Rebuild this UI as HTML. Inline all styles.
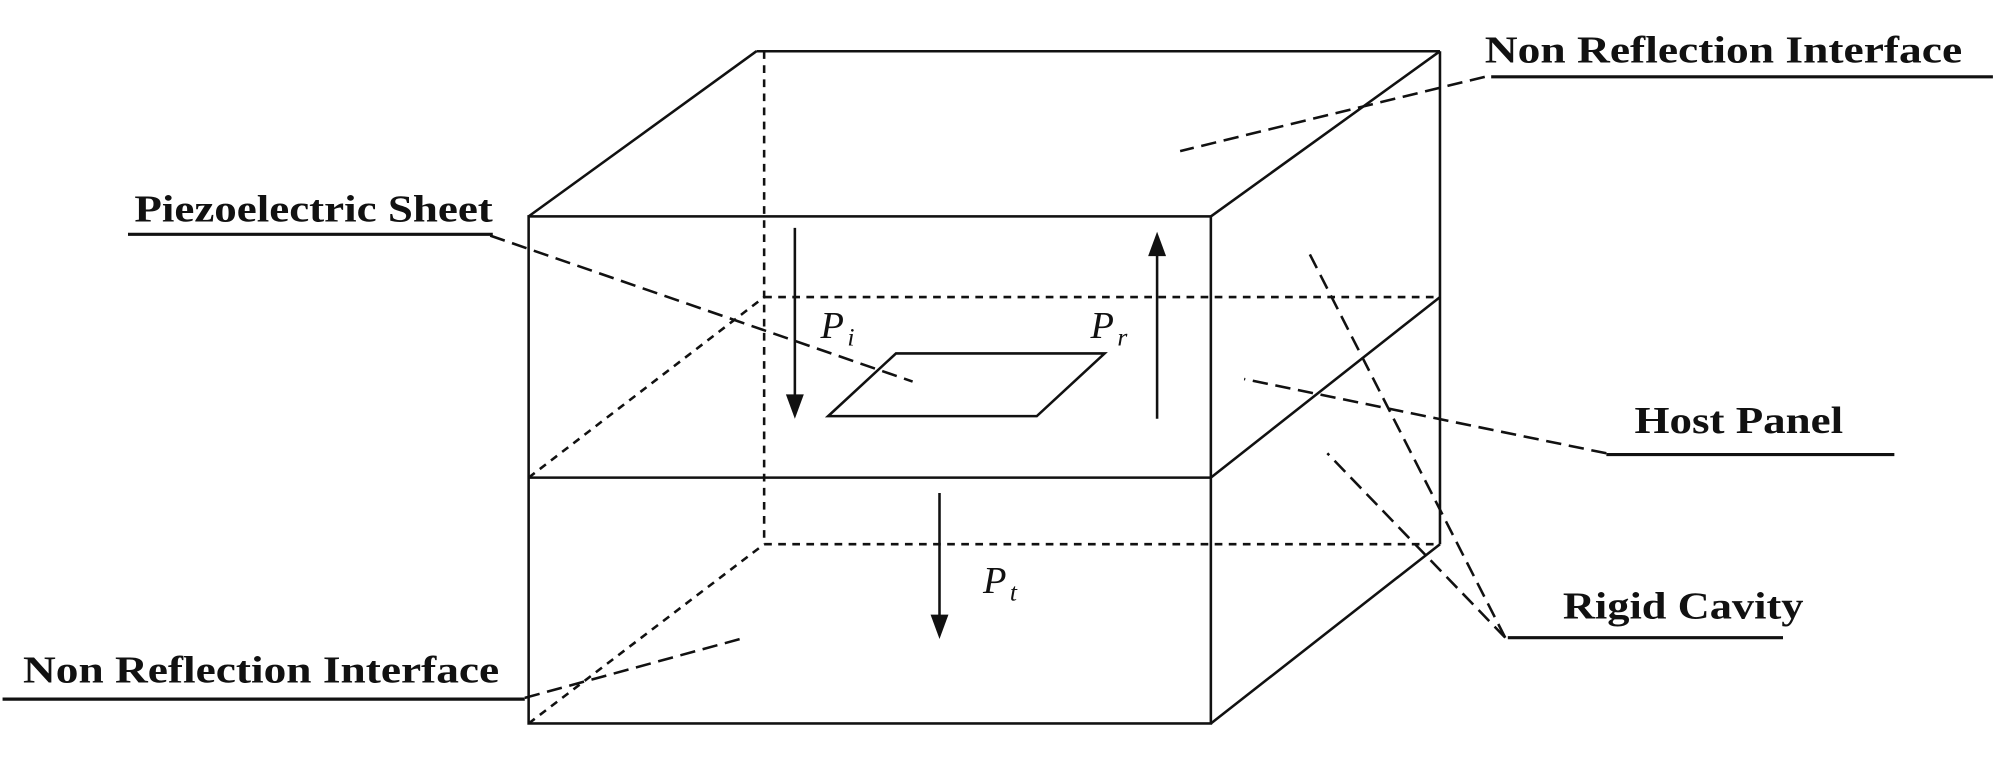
<!DOCTYPE html>
<html><head><meta charset="utf-8"><style>
html,body{margin:0;padding:0;background:#fff;}
svg{display:block;}
text{font-family:"Liberation Serif",serif;}
.lb{font-weight:bold;font-size:30px;fill:#111;}
.m{font-style:italic;font-size:30px;fill:#111;}
.s{font-style:italic;font-size:20px;fill:#111;}
</style></head><body>
<svg width="2007" height="767" viewBox="0 0 1568 599" preserveAspectRatio="none" xmlns="http://www.w3.org/2000/svg">
<g stroke="#111" stroke-width="2" fill="none">
<rect x="413" y="169" width="533" height="396"/>
<line x1="413" y1="373" x2="946" y2="373"/>
<line x1="413" y1="169" x2="591" y2="40"/>
<line x1="591" y1="40" x2="1125" y2="40"/>
<line x1="946" y1="169" x2="1125" y2="40"/>
<line x1="1125" y1="40" x2="1125" y2="425"/>
<line x1="946" y1="373" x2="1125" y2="232"/>
<line x1="946" y1="565" x2="1125" y2="425"/>
<polygon points="700,276 863,276 810,325 647,325"/>
</g>
<g stroke="#111" stroke-width="2" fill="none" stroke-dasharray="6,5">
<line x1="597" y1="40" x2="597" y2="425"/>
<line x1="597" y1="232" x2="1125" y2="232"/>
<line x1="597" y1="425" x2="1125" y2="425"/>
<line x1="413" y1="373" x2="597" y2="232"/>
<line x1="413" y1="565" x2="597" y2="425"/>
</g>
<g stroke="#111" stroke-width="2" fill="none" stroke-dasharray="12,6">
<line x1="1160" y1="60" x2="922" y2="118"/>
<line x1="383" y1="184" x2="713" y2="298"/>
<line x1="1255" y1="354" x2="972" y2="296"/>
<line x1="1176" y1="498" x2="1023" y2="198"/>
<line x1="1176" y1="498" x2="1037" y2="354"/>
<line x1="410" y1="545" x2="582" y2="498"/>
</g>
<g stroke="#111" stroke-width="2.5">
<line x1="1165" y1="60" x2="1557" y2="60"/>
<line x1="100" y1="183" x2="385" y2="183"/>
<line x1="1255" y1="355" x2="1480" y2="355"/>
<line x1="1178" y1="498" x2="1393" y2="498"/>
<line x1="2" y1="546" x2="410" y2="546"/>
</g>
<g stroke="#111" stroke-width="2">
<line x1="621" y1="178" x2="621" y2="312"/>
<line x1="904" y1="327" x2="904" y2="196"/>
<line x1="734" y1="385" x2="734" y2="484"/>
</g>
<g fill="#111">
<polygon points="614,308 628,308 621,327"/>
<polygon points="897,200 911,200 904,181"/>
<polygon points="727,480 741,480 734,499"/>
</g>
<text class="m" x="641" y="264">P</text><text class="s" x="662" y="270">i</text>
<text class="m" x="852" y="264">P</text><text class="s" x="873" y="270">r</text>
<text class="m" x="768" y="463">P</text><text class="s" x="789" y="469">t</text>
<text class="lb" x="1160" y="49" textLength="373" lengthAdjust="spacingAndGlyphs">Non Reflection Interface</text>
<text class="lb" x="105" y="173" textLength="280" lengthAdjust="spacingAndGlyphs">Piezoelectric Sheet</text>
<text class="lb" x="1277" y="338" textLength="163" lengthAdjust="spacingAndGlyphs">Host Panel</text>
<text class="lb" x="1221" y="483" textLength="188" lengthAdjust="spacingAndGlyphs">Rigid Cavity</text>
<text class="lb" x="18" y="533" textLength="372" lengthAdjust="spacingAndGlyphs">Non Reflection Interface</text>
</svg>
</body></html>
